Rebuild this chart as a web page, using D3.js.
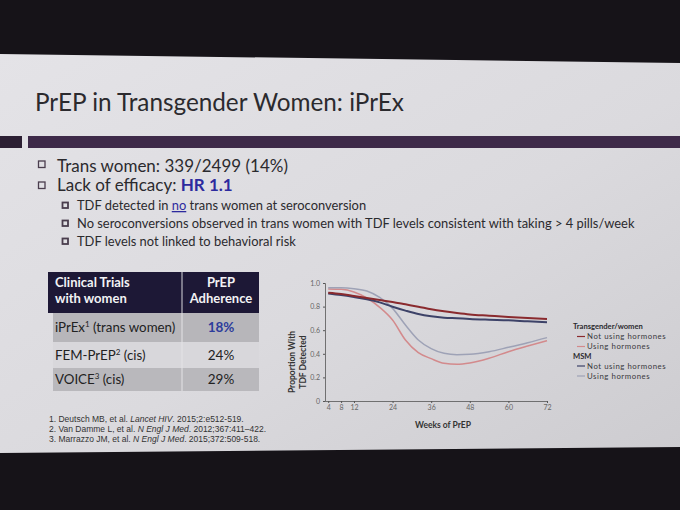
<!DOCTYPE html>
<html>
<head>
    <title>PrEP in Transgender Women: iPrEx</title>
    <script src="https://d3js.org/d3.v7.min.js"></script>
    <style>
        body {
            margin: 0;
            padding: 0;
            background-color: #161318;
        }
        svg text {
            font-family: Lato, "Open Sans", sans-serif;
        }
        .ref text {
            font-family: "Liberation Sans", Arial, sans-serif;
        }
        .axis path, .axis line {
            stroke: #555;
        }
        .axis text {
            fill: #666;
            font-size: 7px;
        }
    </style>
</head>
<body>
    <div id="slide"></div>

    <script>
        // Slide text
        const title = 'PrEP in Transgender Women: iPrEx';
        const subBullets = [
            ['TDF detected in ', 'no', ' trans women at seroconversion'],
            ['No seroconversions observed in trans women with TDF levels consistent with taking > 4 pills/week', '', ''],
            ['TDF levels not linked to behavioral risk', '', '']
        ];

        // Table
        const trialNames = ['iPrEx', 'FEM-PrEP', 'VOICE'];
        const trialSup = ['1', '2', '3'];
        const trialGroup = [' (trans women)', ' (cis)', ' (cis)'];
        const adherence = ['18%', '24%', '29%'];

        const references = [
            ['1. Deutsch MB, et al. ', 'Lancet HIV', '. 2015;2:e512-519.'],
            ['2. Van Damme L, et al. ', 'N Engl J Med', '. 2012;367:411\u2013422.'],
            ['3. Marrazzo JM, et al. ', 'N Engl J Med', '. 2015;372:509-518.']
        ];

        // Chart data (proportion with TDF detected by week of PrEP)
        const weeks = [4, 8, 12, 16, 20, 24, 28, 32, 36, 40, 44, 48, 54, 60, 66, 72];
        const tgwNoHormones = [0.918, 0.907, 0.890, 0.873, 0.856, 0.839, 0.819, 0.799, 0.777, 0.760, 0.746, 0.734, 0.723, 0.712, 0.703, 0.695];
        const tgwHormones   = [0.949, 0.946, 0.924, 0.873, 0.794, 0.686, 0.517, 0.410, 0.359, 0.319, 0.311, 0.322, 0.362, 0.418, 0.466, 0.511];
        const msmNoHormones = [0.912, 0.898, 0.881, 0.862, 0.836, 0.799, 0.766, 0.737, 0.718, 0.706, 0.701, 0.695, 0.689, 0.684, 0.675, 0.667];
        const msmHormones   = [0.960, 0.960, 0.952, 0.932, 0.878, 0.785, 0.644, 0.517, 0.444, 0.404, 0.393, 0.396, 0.418, 0.455, 0.494, 0.537];
        const xTicks = [4, 8, 12, 24, 36, 48, 60, 72];
        const yTicks = [0, 0.2, 0.4, 0.6, 0.8, 1.0];

        const seriesNames = ['Not using hormones', 'Using hormones', 'Not using hormones', 'Using hormones'];
        const seriesColors = ['#8a2a2e', '#d38a8c', '#3d4268', '#9ea2b6'];
        const seriesWidths = [2, 1.5, 2, 1.5];

        const width = 680, height = 510;

        const svg = d3.select('#slide')
            .append('svg')
            .attr('width', width)
            .attr('height', height);

        // Screen background gradient
        const defs = svg.append('defs');
        const grad = defs.append('linearGradient')
            .attr('id', 'bg')
            .attr('x1', 0).attr('y1', 0)
            .attr('x2', 1).attr('y2', 1);
        grad.append('stop').attr('offset', '0%').attr('stop-color', '#e4e3e7');
        grad.append('stop').attr('offset', '55%').attr('stop-color', '#dbdade');
        grad.append('stop').attr('offset', '100%').attr('stop-color', '#cdccd0');

        svg.append('rect')
            .attr('width', width)
            .attr('height', height)
            .attr('fill', '#161318');

        svg.append('polygon')
            .attr('points', '0,54 680,63 680,447 0,453')
            .attr('fill', 'url(#bg)');

        // Title and rule
        svg.append('text')
            .attr('x', 35)
            .attr('y', 111)
            .attr('font-size', 24.3)
            .attr('fill', '#2b2a2e')
            .text(title);

        svg.append('rect').attr('x', 0).attr('y', 136).attr('width', 22).attr('height', 12).attr('fill', '#2c1f33');
        svg.append('rect').attr('x', 28).attr('y', 136).attr('width', 652).attr('height', 12).attr('fill', '#3e2a49');

        // Bullets
        const box = (x, y, s, w) => svg.append('rect')
            .attr('x', x).attr('y', y).attr('width', s).attr('height', s)
            .attr('fill', 'none').attr('stroke', '#4a3d4d').attr('stroke-width', w);

        box(38.5, 161, 6.5, 1.3);
        svg.append('text').attr('x', 57).attr('y', 172).attr('font-size', 17).attr('fill', '#2b2a2e')
            .text('Trans women: 339/2499 (14%)');

        box(38.5, 182, 6.5, 1.3);
        const b2 = svg.append('text').attr('x', 57).attr('y', 191).attr('font-size', 17).attr('fill', '#2b2a2e');
        b2.append('tspan').text('Lack of efficacy: ');
        b2.append('tspan').attr('fill', '#2d2a9e').attr('font-weight', 'bold').text('HR 1.1');

        const subY = [210, 228, 246];
        subBullets.forEach((parts, i) => {
            box(62.5, subY[i] - 7.5, 5.5, 1.8);
            const t = svg.append('text').attr('x', 77).attr('y', subY[i])
                .attr('font-size', 12.9).attr('fill', '#2b2a2e');
            t.append('tspan').text(parts[0]);
            if (parts[1]) {
                t.append('tspan').attr('fill', '#2d2a9e').attr('text-decoration', 'underline').text(parts[1]);
                t.append('tspan').text(parts[2]);
            }
        });

        // Table
        const colX = [50, 182, 259];
        const rowY = [313, 342, 368, 391];
        const rowFill = ['#b7b6ba', '#d8d7db', '#b9b8bc'];

        svg.append('rect').attr('x', 48).attr('y', 272).attr('width', colX[2] - 48).attr('height', 41).attr('fill', '#1d1836');
        svg.append('line').attr('x1', colX[1]).attr('x2', colX[1]).attr('y1', 272).attr('y2', 313)
            .attr('stroke', '#d8d7db').attr('stroke-width', 1);

        const head = [['Clinical Trials', 'with women'], ['PrEP', 'Adherence']];
        head[0].forEach((s, i) => svg.append('text').attr('x', 55).attr('y', 287 + i * 15.5)
            .attr('font-size', 13).attr('font-weight', 'bold').attr('fill', '#f2f2f4').text(s));
        head[1].forEach((s, i) => svg.append('text').attr('x', 221).attr('y', 287 + i * 15.5)
            .attr('text-anchor', 'middle').attr('font-size', 13).attr('font-weight', 'bold').attr('fill', '#f2f2f4').text(s));

        trialNames.forEach((name, i) => {
            svg.append('rect').attr('x', 53).attr('y', rowY[i]).attr('width', colX[2] - 53)
                .attr('height', rowY[i + 1] - rowY[i]).attr('fill', rowFill[i]);
            svg.append('line').attr('x1', colX[1]).attr('x2', colX[1]).attr('y1', rowY[i]).attr('y2', rowY[i + 1])
                .attr('stroke', '#e4e3e6').attr('stroke-width', 1);
            const ty = (rowY[i] + rowY[i + 1]) / 2 + 4.5;
            const t = svg.append('text').attr('x', 55).attr('y', ty).attr('font-size', 13.3).attr('fill', '#222');
            t.append('tspan').text(name);
            t.append('tspan').attr('font-size', 8).attr('dy', -5).text(trialSup[i]);
            t.append('tspan').attr('dy', 5).text(trialGroup[i]);
            svg.append('text').attr('x', 221).attr('y', ty).attr('text-anchor', 'middle')
                .attr('font-size', 13.5)
                .attr('font-weight', i === 0 ? 'bold' : 'normal')
                .attr('fill', i === 0 ? '#2d3c9c' : '#222')
                .text(adherence[i]);
        });

        // References
        const ref = svg.append('g').attr('class', 'ref');
        references.forEach((r, i) => {
            const t = ref.append('text').attr('x', 49).attr('y', 422 + i * 10)
                .attr('font-size', 8.5).attr('fill', '#333');
            t.append('tspan').text(r[0]);
            t.append('tspan').attr('font-style', 'italic').text(r[1]);
            t.append('tspan').text(r[2]);
        });

        // Chart
        const x = d3.scaleLinear().domain([3, 72]).range([325, 547]);
        const y = d3.scaleLinear().domain([0, 1]).range([401, 283]);

        const chart = svg.append('g');

        chart.append('g')
            .attr('class', 'axis')
            .attr('transform', 'translate(325,0)')
            .call(d3.axisLeft(y).tickValues(yTicks).tickSize(2).tickPadding(3)
                .tickFormat(d => d === 0 ? '0' : d.toFixed(1)));

        chart.append('g')
            .attr('class', 'axis')
            .attr('transform', 'translate(0,401)')
            .call(d3.axisBottom(x).tickValues(xTicks).tickSize(2).tickPadding(2).tickSizeOuter(0));

        chart.selectAll('.axis .domain').attr('stroke-width', 0.8);

        const line = d3.line()
            .x((d, i) => x(weeks[i]))
            .y(d => y(d))
            .curve(d3.curveMonotoneX);

        const series = [tgwHormones, msmHormones, msmNoHormones, tgwNoHormones];
        const order = [1, 3, 2, 0];
        chart.append('g')
            .selectAll('path')
            .data(series)
            .enter()
            .append('path')
            .attr('d', d => line(d))
            .attr('fill', 'none')
            .attr('stroke', (d, i) => seriesColors[order[i]])
            .attr('stroke-width', (d, i) => seriesWidths[order[i]]);

        // Axis titles
        const yTitle = chart.append('g').attr('transform', 'translate(295,362) rotate(-90)');
        yTitle.append('text').attr('text-anchor', 'middle').attr('font-size', 8.5).attr('font-weight', 'bold')
            .attr('fill', '#333').text('Proportion With');
        yTitle.append('text').attr('y', 11).attr('text-anchor', 'middle').attr('font-size', 8.5).attr('font-weight', 'bold')
            .attr('fill', '#333').text('TDF Detected');

        chart.append('text').attr('x', 443).attr('y', 428).attr('text-anchor', 'middle')
            .attr('font-size', 8.5).attr('font-weight', 'bold').attr('fill', '#333').text('Weeks of PrEP');

        // Legend
        const legend = chart.append('g');
        const groupLabels = ['Transgender/women', 'MSM'];
        const groupY = [329, 358.5];
        groupLabels.forEach((g, i) => legend.append('text').attr('x', 573).attr('y', groupY[i])
            .attr('font-size', 7.6).attr('font-weight', 'bold').attr('fill', '#2b2a2e').text(g));

        const itemY = [339, 349, 368.5, 378.5];
        seriesNames.forEach((name, i) => {
            legend.append('line').attr('x1', 577).attr('x2', 585)
                .attr('y1', itemY[i] - 2.5).attr('y2', itemY[i] - 2.5)
                .attr('stroke', seriesColors[i]).attr('stroke-width', 1.2);
            legend.append('text').attr('x', 587).attr('y', itemY[i])
                .attr('font-size', 7.8).attr('letter-spacing', 0.55)
                .attr('fill', '#3a393d').text(name);
        });
    </script>
</body>
</html>
